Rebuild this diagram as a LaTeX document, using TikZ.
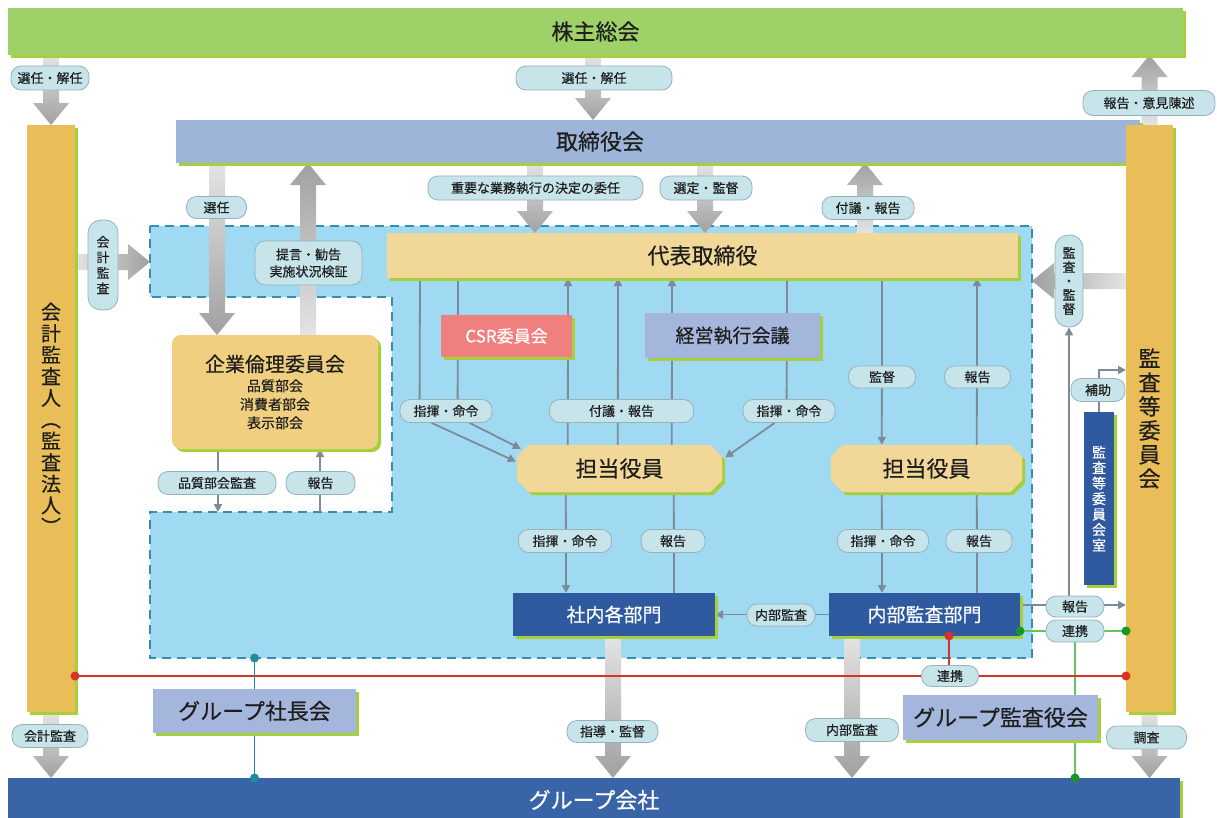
\documentclass[tikz,border=0pt]{standalone}
\usepackage{fontspec}
\setmainfont{Noto Sans CJK JP}[FakeBold=0.4]
\usetikzlibrary{calc,shadows,arrows.meta}
\definecolor{kabuf}{RGB}{158,210,104}
\definecolor{torif}{RGB}{157,181,216}
\definecolor{orgf}{RGB}{233,189,88}
\definecolor{regf}{RGB}{160,218,242}
\definecolor{regd}{RGB}{55,140,175}
\definecolor{tanf}{RGB}{242,216,152}
\definecolor{kigf}{RGB}{240,208,128}
\definecolor{csrf}{RGB}{240,128,128}
\definecolor{lavf}{RGB}{165,182,220}
\definecolor{dbf}{RGB}{47,90,160}
\definecolor{grpf}{RGB}{58,100,168}
\definecolor{shg}{RGB}{165,208,60}
\definecolor{lbf}{RGB}{198,228,234}
\definecolor{lbd}{RGB}{150,178,188}
\definecolor{cln}{RGB}{125,138,152}
\definecolor{txt}{RGB}{30,30,30}
\definecolor{agl}{RGB}{228,228,228}
\definecolor{agd}{RGB}{160,160,160}
\definecolor{redl}{RGB}{215,50,40}
\definecolor{grnl}{RGB}{100,195,100}
\definecolor{grnd}{RGB}{20,150,40}
\definecolor{teall}{RGB}{30,140,160}
\pgfdeclarelayer{bg}
\pgfdeclarelayer{arr}
\pgfdeclarelayer{con}
\pgfdeclarelayer{box}
\pgfdeclarelayer{lab}
\pgfsetlayers{bg,arr,con,box,main,lab}
\newcommand\bigdown[2]{\shade[top color=agl,bottom color=agd] ($(#1)+(-8,0)$) -- ($(#2)+(-8,-22)$) -- ($(#2)+(-18,-22)$) -- (#2) -- ($(#2)+(18,-22)$) -- ($(#2)+(8,-22)$) -- ($(#1)+(8,0)$) -- cycle;}
\newcommand\bigup[2]{\shade[top color=agd,bottom color=agl] ($(#1)+(-8,0)$) -- ($(#2)+(-8,22)$) -- ($(#2)+(-18,22)$) -- (#2) -- ($(#2)+(18,22)$) -- ($(#2)+(8,22)$) -- ($(#1)+(8,0)$) -- cycle;}
\newcommand\bigright[2]{\shade[left color=agl,right color=agd] ($(#1)+(0,-8)$) -- ($(#2)+(-22,-8)$) -- ($(#2)+(-22,-18)$) -- (#2) -- ($(#2)+(-22,18)$) -- ($(#2)+(-22,8)$) -- ($(#1)+(0,8)$) -- cycle;}
\newcommand\bigleft[2]{\shade[left color=agd,right color=agl] ($(#1)+(0,-8)$) -- ($(#2)+(22,-8)$) -- ($(#2)+(22,-18)$) -- (#2) -- ($(#2)+(22,18)$) -- ($(#2)+(22,8)$) -- ($(#1)+(0,8)$) -- cycle;}
\newcommand\chamf[1]{%
\fill[shg] ($(#1.north west)+(15,3)$) -- ($(#1.north east)+(-9,3)$) -- ($(#1.north east)+(3,15)$) -- ($(#1.south east)+(3,-9)$) -- ($(#1.south east)+(-9,3)$) -- ($(#1.south west)+(15,3)$) -- ($(#1.south west)+(3,-9)$) -- ($(#1.north west)+(3,15)$) -- cycle;
\fill[tanf] ($(#1.north west)+(12,0)$) -- ($(#1.north east)+(-12,0)$) -- ($(#1.north east)+(0,12)$) -- ($(#1.south east)+(0,-12)$) -- ($(#1.south east)+(-12,0)$) -- ($(#1.south west)+(12,0)$) -- ($(#1.south west)+(0,-12)$) -- ($(#1.north west)+(0,12)$) -- cycle;}
\tikzset{
 bx/.style={inner sep=0pt, outer sep=0pt, text=txt, general shadow={fill=shg, shadow xshift=3pt, shadow yshift=-3pt}},
 lbl/.style={draw=lbd, line width=0.8pt, fill=lbf, rounded corners=10pt, inner sep=0pt, text=txt, font=\fontsize{13}{15}\selectfont},
 con/.style={draw=cln, line width=1.8pt},
 cona/.style={con, -{Triangle[length=8pt,width=8pt]}},
 grn/.style={draw=grnl, line width=1.6pt},
 redc/.style={draw=redl, line width=1.2pt},
 tealc/.style={draw=teall, line width=1.4pt},
 big/.style={font=\fontsize{22}{26}\selectfont},
 mid/.style={font=\fontsize{19}{22}\selectfont},
}
\begin{document}
\begin{tikzpicture}[x=1pt,y=-1pt]
\useasboundingbox (0,0) rectangle (1217,817);
% ---------- main boxes
\node[bx, big, fill=kabuf, minimum width=1175pt, minimum height=47pt] (kabu) at (595.5,31.5) {株主総会};
\node[bx, fill=torif, minimum width=964pt, minimum height=43pt] (tori) at (658,141.5) {};
\node[big, text=txt] (toritxt) at (600,141.5) {取締役会};
\node[bx, fill=orgf, minimum width=48pt, minimum height=587pt, align=center, font=\fontsize{20}{21.5}\selectfont] (kaikei) at (51,418.5) {会\\計\\監\\査\\人\\︵\\監\\査\\法\\人\\︶};
\node[bx, fill=orgf, minimum width=47pt, minimum height=587pt, align=center, font=\fontsize{22}{24}\selectfont] (kansaiin) at (1149.5,418.5) {監\\査\\等\\委\\員\\会};
\node[bx, big, fill=grpf, text=white, minimum width=1172pt, minimum height=44pt] (group) at (594,800) {グループ会社};
\node[bx, big, fill=tanf, minimum width=631pt, minimum height=45pt] (daihyo) at (702.5,255.5) {代表取締役};
\node[bx, fill=csrf, text=white, minimum width=131pt, minimum height=42pt, font=\fontsize{17}{20}\selectfont] (csr) at (506.5,336) {CSR委員会};
\node[bx, mid, fill=lavf, minimum width=175pt, minimum height=45pt] (keiei) at (732.5,335.5) {経営執行会議};
\node[inner sep=0pt, big, text=txt, minimum width=205pt, minimum height=47pt] (tanL) at (619.5,468.5) {担当役員};
\node[inner sep=0pt, big, text=txt, minimum width=191pt, minimum height=47pt] (tanR) at (926.5,468.5) {担当役員};
\node[bx, mid, fill=dbf, text=white, minimum width=202pt, minimum height=43pt] (shanai) at (614,614.5) {社内各部門};
\node[bx, mid, fill=dbf, text=white, minimum width=191pt, minimum height=43pt] (naibu) at (924.5,614.5) {内部監査部門};
\node[bx, fill=kigf, rounded corners=9pt, minimum width=206pt, minimum height=114pt, align=center, font=\fontsize{14}{18.5}\selectfont] (kigyo) at (275,392) {{\fontsize{20}{24}\selectfont 企業倫理委員会}\\[1pt]品質部会\\消費者部会\\表示部会};
\node[bx, big, fill=lavf, minimum width=203pt, minimum height=44pt] (gshacho) at (254.5,711) {グループ社長会};
\node[bx, big, fill=lavf, minimum width=195pt, minimum height=45pt] (gkansa) at (1000.5,717.5) {グループ監査役会};
\node[bx, fill=dbf, text=white, minimum width=30pt, minimum height=173pt, align=center, font=\fontsize{14}{15.5}\selectfont] (shitsu) at (1099,498.5) {監\\査\\等\\委\\員\\会\\室};
% ---------- chamfered shapes
\begin{pgfonlayer}{box}
\chamf{tanL}
\chamf{tanR}
\end{pgfonlayer}
% ---------- labels
\begin{pgfonlayer}{lab}
\node[lbl, minimum width=78pt, minimum height=24pt] (L1) at (50,78) {選任・解任};
\node[lbl, minimum width=156pt, minimum height=24pt] (L2) at (594,78) {選任・解任};
\node[lbl, minimum width=132pt, minimum height=25pt] (L3) at (1149,103) {報告・意見陳述};
\node[lbl, minimum width=215pt, minimum height=24pt] (L4) at (535.5,188) {重要な業務執行の決定の委任};
\node[lbl, minimum width=92pt, minimum height=24pt] (L5) at (706,188) {選定・監督};
\node[lbl, minimum width=92pt, minimum height=23pt] (L6) at (868,208) {付議・報告};
\node[lbl, minimum width=60pt, minimum height=22pt] (L7) at (216.5,207.5) {選任};
\node[lbl, minimum width=107pt, minimum height=44pt, align=center, font=\fontsize{13}{17}\selectfont] (L8) at (308.5,263) {提言・勧告\\実施状況検証};
\node[lbl, rounded corners=13pt, minimum width=30pt, minimum height=90pt, align=center, font=\fontsize{13}{15.5}\selectfont] (L9) at (103,265) {会\\計\\監\\査};
\node[lbl, rounded corners=13pt, minimum width=28pt, minimum height=92pt, align=center, font=\fontsize{13}{14}\selectfont] (L10) at (1069,281) {監\\査\\・\\監\\督};
\node[lbl, minimum width=92pt, minimum height=23pt] (L11) at (446,411) {指揮・命令};
\node[lbl, minimum width=144pt, minimum height=23pt] (L12) at (621.5,411) {付議・報告};
\node[lbl, minimum width=92pt, minimum height=23pt] (L13) at (789,411) {指揮・命令};
\node[lbl, minimum width=67pt, minimum height=22pt] (L14) at (882,377) {監督};
\node[lbl, minimum width=66pt, minimum height=22pt] (L15) at (977.5,377) {報告};
\node[lbl, minimum width=118pt, minimum height=23pt] (L16) at (217,483) {品質部会監査};
\node[lbl, minimum width=69pt, minimum height=23pt] (L17) at (320.5,483) {報告};
\node[lbl, minimum width=93pt, minimum height=23pt] (L18) at (565,541) {指揮・命令};
\node[lbl, minimum width=64pt, minimum height=23pt] (L19) at (673,541) {報告};
\node[lbl, minimum width=91pt, minimum height=23pt] (L20) at (883,541) {指揮・命令};
\node[lbl, minimum width=66pt, minimum height=23pt] (L21) at (979,541) {報告};
\node[lbl, minimum width=68pt, minimum height=22pt] (L22) at (781,615) {内部監査};
\node[lbl, minimum width=58pt, minimum height=21pt] (L23) at (1075,606.5) {報告};
\node[lbl, minimum width=58pt, minimum height=22pt] (L24) at (1075,631) {連携};
\node[lbl, minimum width=57pt, minimum height=21pt] (L25) at (950,676) {連携};
\node[lbl, minimum width=54pt, minimum height=23pt] (L26) at (1098,390) {補助};
\node[lbl, minimum width=76pt, minimum height=23pt] (L27) at (50,736) {会計監査};
\node[lbl, minimum width=91pt, minimum height=22pt] (L28) at (612.5,731.5) {指導・監督};
\node[lbl, minimum width=93pt, minimum height=23pt] (L29) at (852,730) {内部監査};
\node[lbl, minimum width=80pt, minimum height=23pt] (L30) at (1146.5,737.5) {調査};
\end{pgfonlayer}
% ---------- background region
\begin{pgfonlayer}{bg}
\fill[white] (0,0) rectangle (1217,817);
\coordinate (rTL) at (150,226);
\coordinate (rTR) at (1032,226);
\coordinate (rBR) at (1032,658);
\coordinate (rBL) at (150,658);
\coordinate (rN1) at (150,512);
\coordinate (rN2) at (392,512);
\coordinate (rN3) at (392,297);
\coordinate (rN4) at (150,297);
\filldraw[fill=regf, draw=regd, line width=2pt, dash pattern=on 9pt off 6pt] (rTL) -- (rTR) -- (rBR) -- (rBL) -- (rN1) -- (rN2) -- (rN3) -- (rN4) -- cycle;
\end{pgfonlayer}
% ---------- big arrows
\coordinate (x593) at (593,0);
\coordinate (x535) at (535,0);
\coordinate (x705) at (705,0);
\coordinate (x865) at (865,0);
\coordinate (x217) at (217,0);
\coordinate (x308) at (308,0);
\coordinate (x613) at (613,0);
\coordinate (x852) at (852,0);
\coordinate (y262) at (0,262);
\coordinate (y281) at (0,281);
\begin{pgfonlayer}{arr}
\bigdown{kabu.south -| kaikei.north}{kaikei.north}
\bigdown{kabu.south -| x593}{tori.north -| x593}
\bigup{kansaiin.north}{kabu.south -| kansaiin.north}
\bigdown{tori.south -| x535}{daihyo.north -| x535}
\bigdown{tori.south -| x705}{daihyo.north -| x705}
\bigup{daihyo.north -| x865}{tori.south -| x865}
\bigdown{tori.south -| x217}{kigyo.north -| x217}
\bigup{kigyo.north -| x308}{tori.south -| x308}
\bigright{kaikei.east |- y262}{rTL |- y262}
\bigleft{kansaiin.west |- y281}{rTR |- y281}
\bigdown{shanai.south -| x613}{group.north -| x613}
\bigdown{naibu.south -| x852}{group.north -| x852}
\bigdown{kaikei.south}{group.north -| kaikei.south}
\bigdown{kansaiin.south}{group.north -| kansaiin.south}
\end{pgfonlayer}
% ---------- thin connectors
\coordinate (qa) at (218,512);
\coordinate (qb) at (320,512);
\coordinate (m1) at ($(naibu.north east)+(0,12)$);
\coordinate (hk) at ($(shitsu.north)+(0,-42)$);
\coordinate (g1) at ($(naibu.south east)+(0,-5)$);
\coordinate (ry) at (0,676);
\coordinate (rd) at ($(naibu.south west)+(120,0)$);
\begin{pgfonlayer}{con}
\draw[con] ($(daihyo.south west)+(33,0)$) -- ($(L11.north west)+(20,0)$);
\draw[con] ($(daihyo.south west)+(71,0)$) -- ($(L11.north west)+(58,0)$);
\draw[cona] ($(L11.south west)+(32,0)$) -- ($(tanL.west)+(-1,-7)$);
\draw[cona] ($(L11.south west)+(70,0)$) -- ($(tanL.north west)+(4,4)$);
\draw[cona] ($(tanL.north west)+(51,0)$) -- ($(daihyo.south west)+(181,0)$);
\draw[cona] ($(tanL.north west)+(101,0)$) -- ($(daihyo.south west)+(231,0)$);
\draw[cona] ($(tanL.north west)+(155,0)$) -- ($(daihyo.south west)+(285,0)$);
\draw[con] ($(daihyo.south west)+(400,0)$) -- ($(L13.north west)+(44,0)$);
\draw[cona] ($(L13.south west)+(32,0)$) -- ($(tanL.east)+(3,-11)$);
\draw[cona] ($(daihyo.south west)+(495,0)$) -- ($(tanR.north west)+(51,0)$);
\draw[cona] ($(tanR.north west)+(146,0)$) -- ($(daihyo.south west)+(590,0)$);
\draw[cona] ($(tanL.south west)+(49,0)$) -- ($(shanai.north west)+(53,0)$);
\draw[con] ($(shanai.north west)+(161,0)$) -- ($(tanL.south west)+(157,0)$);
\draw[cona] ($(tanR.south west)+(51,0)$) -- ($(naibu.north west)+(53,0)$);
\draw[con] ($(naibu.north west)+(148,0)$) -- ($(tanR.south west)+(146,0)$);
\draw[cona] (naibu.west) -- (shanai.east);
\draw[cona] ($(kigyo.south west)+(46,0)$) -- (qa);
\draw[cona] (qb) -- ($(kigyo.south west)+(148,0)$);
\draw[cona] (m1) -- (m1 -| kansaiin.west);
\draw[cona] (L10.south |- m1) -- (L10.south);
\draw[cona] (shitsu.north) -- (hk) -- (hk -| kansaiin.west);
\draw[grn] (g1) -- (g1 -| kansaiin.west);
\draw[grn] (L24.center) -- (L24.center |- group.north);
\draw[redc] (kaikei.east |- ry) -- (kansaiin.west |- ry);
\draw[redc] (rd) -- (rd |- L25.center);
\draw[tealc] (gshacho.north |- rBL) -- (gshacho.north |- group.north);
\end{pgfonlayer}
\begin{pgfonlayer}{lab}
\fill[grnd] (g1) circle[radius=4.5pt];
\fill[grnd] (g1 -| kansaiin.west) circle[radius=4.5pt];
\fill[grnd] (L24.center |- group.north) circle[radius=4.5pt];
\fill[redl] (kaikei.east |- ry) circle[radius=4.5pt];
\fill[redl] (kansaiin.west |- ry) circle[radius=4.5pt];
\fill[redl] (rd) circle[radius=4.5pt];
\fill[teall] (gshacho.north |- rBL) circle[radius=4.5pt];
\fill[teall] (gshacho.north |- group.north) circle[radius=4.5pt];
\end{pgfonlayer}
\end{tikzpicture}
\end{document}
